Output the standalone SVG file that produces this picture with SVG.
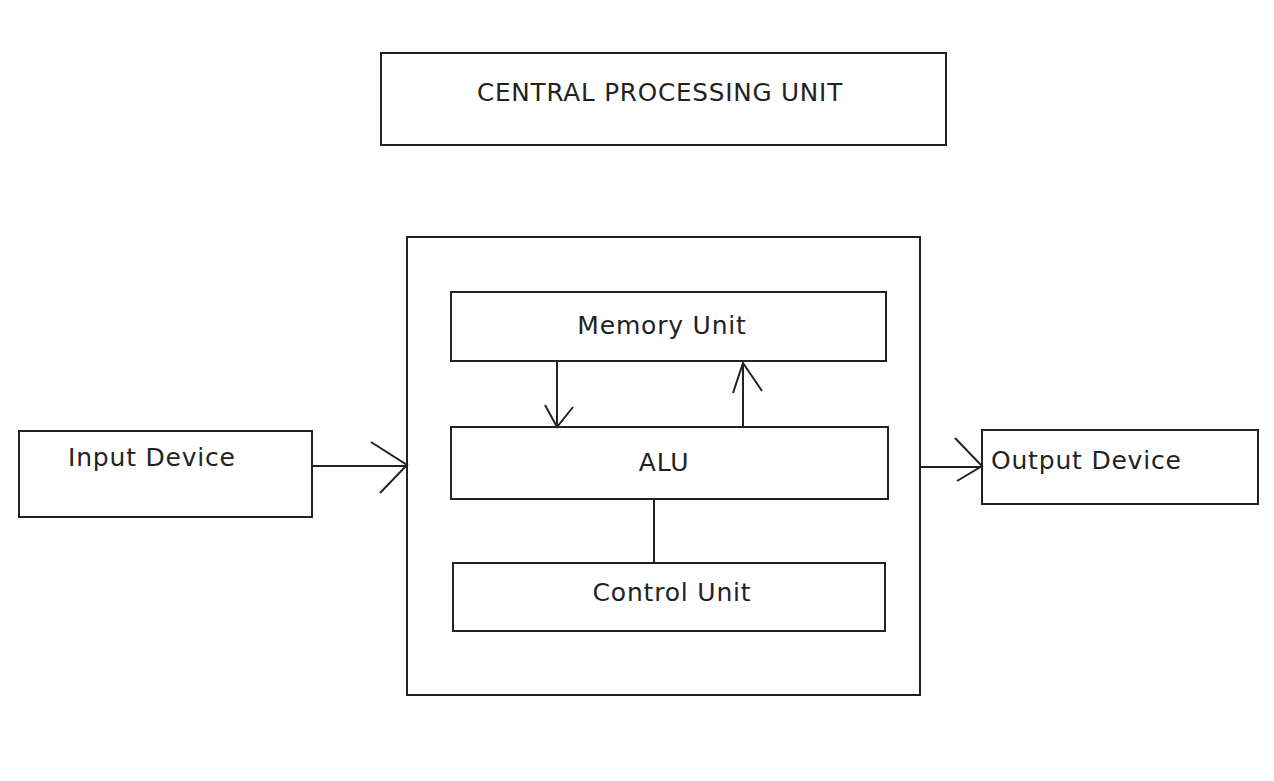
<svg xmlns="http://www.w3.org/2000/svg" width="1274" height="781" viewBox="0 0 1274 781">
<style>
.box{fill:#fff;stroke:#222;stroke-width:2}
.ln{fill:none;stroke:#222;stroke-width:2}
.t{font-family:"DejaVu Sans","Liberation Sans",sans-serif;font-size:25px;letter-spacing:0.8px;fill:#222}
</style>
<rect width="1274" height="781" fill="#fff"/>
<g id="cpu-title"><rect class="box" x="381" y="53" width="565" height="92"/><text class="t" x="660" y="101" text-anchor="middle" textLength="366" lengthAdjust="spacingAndGlyphs">CENTRAL PROCESSING UNIT</text></g>
<g id="cpu"><rect class="box" x="407" y="237" width="513" height="458"/></g>
<g id="memory"><rect class="box" x="451" y="292" width="435" height="69"/><text class="t" x="662" y="334" text-anchor="middle">Memory Unit</text></g>
<g id="alu"><rect class="box" x="451" y="427" width="437" height="72"/><text class="t" x="664" y="471" text-anchor="middle">ALU</text></g>
<g id="control"><rect class="box" x="453" y="563" width="432" height="68"/><text class="t" x="672" y="601" text-anchor="middle">Control Unit</text></g>
<g id="input"><rect class="box" x="19" y="431" width="293" height="86"/><text class="t" x="68" y="466">Input Device</text></g>
<g id="output"><rect class="box" x="982" y="430" width="276" height="74"/><text class="t" x="991" y="469">Output Device</text></g>
<g id="connectors">
<path class="ln" d="M312 466H407M371 442L407 465L380 493"/>
<path class="ln" d="M557 361V427M545 405L557 427L573 407"/>
<path class="ln" d="M743 427V363M733 393L743 363L762 391"/>
<path class="ln" d="M654 499V563"/>
<path class="ln" d="M920 467H982M955 438L982 466L957 481"/>
</g>
</svg>
